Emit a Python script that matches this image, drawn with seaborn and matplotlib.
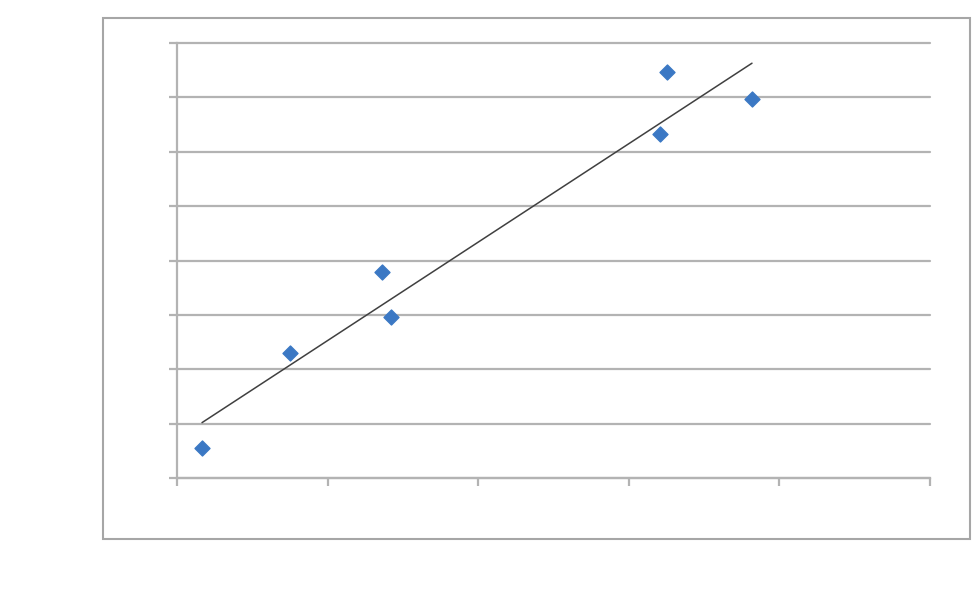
import matplotlib
matplotlib.use("Agg")
import matplotlib.pyplot as plt
import seaborn as sns
import pandas as pd
from matplotlib.patches import Rectangle

x_values = [0.166, 0.751, 1.364, 1.424, 3.205, 3.254, 3.818]
y_values = [0.557, 2.292, 3.781, 2.965, 6.318, 7.458, 6.961]
x_ticks = [0, 1, 2, 3, 4, 5]
y_ticks = [0, 1, 2, 3, 4, 5, 6, 7, 8]

df = pd.DataFrame({"x": x_values, "y": y_values})

sns.set_theme(style="white")
fig = plt.figure(figsize=(9.75, 6.04), dpi=100)
fig.patch.set_facecolor("white")

# outer chart border
fig.patches.append(Rectangle((103 / 975, 1 - 539 / 604), (970 - 103) / 975, (539 - 18) / 604,
                             transform=fig.transFigure, fill=False,
                             edgecolor="#a6a6a6", linewidth=1.5, zorder=0))

ax = fig.add_axes([177 / 975, 1 - 478 / 604, (930 - 177) / 975, (478 - 43) / 604])
ax.set_facecolor("white")

sns.regplot(data=df, x="x", y="y", ax=ax, ci=None, truncate=True,
            marker="D",
            scatter_kws=dict(color="#3b78c4", s=58, edgecolors="#3b78c4", alpha=1, zorder=3),
            line_kws=dict(color="#404040", linewidth=1.1, zorder=2))

ax.set_xlim(x_ticks[0], x_ticks[-1])
ax.set_ylim(y_ticks[0], y_ticks[-1])
ax.set_xticks(x_ticks)
ax.set_yticks(y_ticks)
ax.set_xticklabels([])
ax.set_yticklabels([])
ax.set_xlabel("")
ax.set_ylabel("")

ax.grid(axis="y", color="#b3b3b3", linewidth=1.6)
ax.grid(axis="x", visible=False)
ax.set_axisbelow(True)
for gl in ax.get_ygridlines():
    gl.set_clip_on(False)

for side in ["top", "right"]:
    ax.spines[side].set_visible(False)
for side in ["left", "bottom"]:
    ax.spines[side].set_color("#b3b3b3")
    ax.spines[side].set_linewidth(1.6)

ax.tick_params(axis="both", which="both", direction="out", length=6, width=1.6,
               color="#b3b3b3", left=True, bottom=True)

fig.savefig("out.png", dpi=100, facecolor="white")
